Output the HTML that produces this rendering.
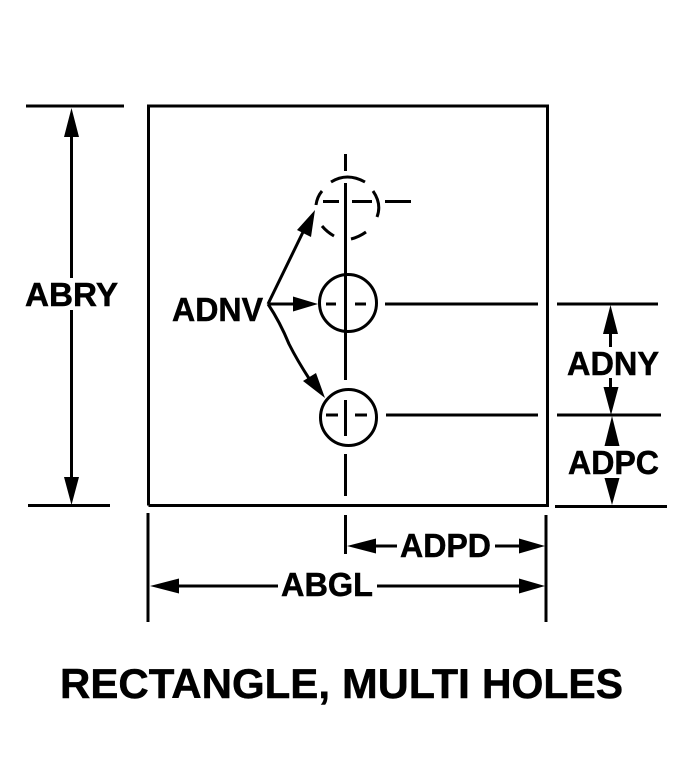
<!DOCTYPE html>
<html><head><meta charset="utf-8"><style>
html,body{margin:0;padding:0;background:#fff}
svg{display:block}
text{font-family:"Liberation Sans",Arial,sans-serif;font-weight:bold;fill:#000;stroke:#000;stroke-width:.5}
</style></head><body>
<svg width="690" height="776" viewBox="0 0 690 776" xmlns="http://www.w3.org/2000/svg">
<g fill="none" stroke="#000" stroke-width="3">
<path d="M148.500 505.500V106H547.500V505.500H148.500"/>
<path d="M26 106H124M28 505.500H110"/>
<path d="M71.500 120V278M71.500 310V490"/>
<path d="M345.500 154V171M345.500 183V380M345.500 400V436M345.500 454V496"/>
<path d="M323 201.500H339M352 201.500H372M385 201.500H411"/>
<path d="M331 182Q347 172 365 182M373 191Q382 204 377 217M351 239Q359 237 366 232M322 226Q327 232 334 236M322 191Q317 197 316 205"/>
<circle cx="348" cy="303" r="28.500"/>
<circle cx="348.500" cy="417.500" r="28"/>
<path d="M326 304H336M355 304H366M385 304H538M326 415H338M355 415H367M386 415H538"/>
<path d="M268 304L304 230M268 304H296M268 304Q280 322 289 344Q297 360 310 380"/>
<path d="M557 304H658M557 415H661M555 506.500H667"/>
<path d="M610.500 325V347M610.500 378V395M612 435V446M612 478V490"/>
<path d="M148 513V622M345.500 515V554M546 515V622"/>
<path d="M370 546H397M495 546H525M170 586H278M377 586H525"/>
</g>
<g fill="#000">
<path d="M71.500 108L79 137H64ZM71.500 505L64 477H79Z"/>
<path d="M315 210L311 237L297 230ZM318 304L293 296.500V311.500ZM325 398L303 381L316 373Z"/>
<path d="M610.500 305L618 334H603ZM611 415L603.500 387H618.500ZM612 416L619.500 446H604.500ZM612 505L604.500 478H619.500Z"/>
<path d="M347 546L376 538.500V553.500ZM545 546L519 538.500V553.500ZM150 586L179 578.500V593.500ZM545 586L519 578.500V593.500Z"/>
</g>
<text x="25" y="306" font-size="33" textLength="93" lengthAdjust="spacingAndGlyphs">ABRY</text>
<text x="172" y="321" font-size="33" textLength="91" lengthAdjust="spacingAndGlyphs">ADNV</text>
<text x="567" y="375" font-size="33" textLength="92" lengthAdjust="spacingAndGlyphs">ADNY</text>
<text x="568" y="474" font-size="33" textLength="91" lengthAdjust="spacingAndGlyphs">ADPC</text>
<text x="400" y="557" font-size="33" textLength="91" lengthAdjust="spacingAndGlyphs">ADPD</text>
<text x="281" y="596" font-size="33" textLength="92" lengthAdjust="spacingAndGlyphs">ABGL</text>
<text x="60" y="698" font-size="42" textLength="270" lengthAdjust="spacingAndGlyphs">RECTANGLE,</text>
<text x="342" y="698" font-size="42" textLength="128" lengthAdjust="spacingAndGlyphs">MULTI</text>
<text x="482" y="698" font-size="42" textLength="141" lengthAdjust="spacingAndGlyphs">HOLES</text>
</svg>
</body></html>
